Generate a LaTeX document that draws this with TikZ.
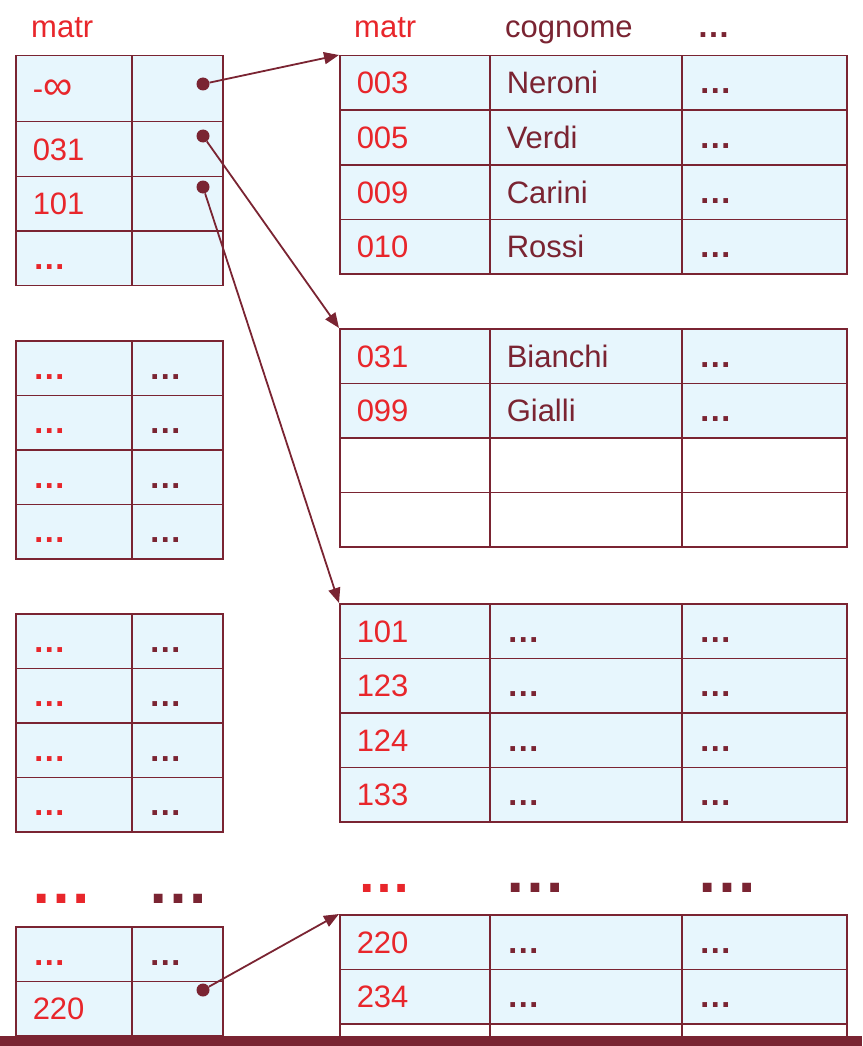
\documentclass[tikz,border=0pt]{standalone}
\usepackage{fontspec}
\setmainfont{Liberation Sans}
\usetikzlibrary{arrows.meta}
\definecolor{idxred}{HTML}{E8262B}
\definecolor{idxdark}{HTML}{7A2432}
\definecolor{idxfill}{HTML}{E7F6FD}
\newcommand\elid{{\bfseries\fontsize{33}{36}\selectfont …}}

\begin{document}
\begin{tikzpicture}[x=1pt,y=-1pt]
\tikzset{cell/.style={draw=idxdark,fill=idxfill,line width=1.5pt,anchor=north west,
  minimum height=54.5pt,text height=22pt,text depth=0pt,inner xsep=17pt,inner ysep=0pt,
  align=left,font=\fontsize{31}{36}\selectfont}}
\tikzset{keyc/.style={cell,text=idxred,minimum width=116pt,text width=82pt}}
\tikzset{ptrc/.style={cell,text=idxdark,minimum width=91pt,text width=57pt}}
\tikzset{rkey/.style={cell,text=idxred,minimum width=150pt,text width=116pt}}
\tikzset{rname/.style={cell,text=idxdark,minimum width=192pt,text width=158pt}}
\tikzset{rrest/.style={cell,text=idxdark,minimum width=165pt,text width=131pt}}
\tikzset{head/.style={anchor=base west,inner sep=0pt,font=\fontsize{31}{36}\selectfont}}
\tikzset{bigdots/.style={head,font=\bfseries\fontsize{62}{70}\selectfont}}
\tikzset{dotp/.style={circle,fill=idxdark,inner sep=0pt,minimum size=13pt}}
\tikzset{link/.style={draw=idxdark,line width=1.8pt,-{Triangle[length=15pt,width=12pt]}}}
\useasboundingbox (0,0) rectangle (862,1046);

% headers
\node[head,text=idxred] (hidx) at (31,38) {matr};
\node[head,text=idxred] (hkey) at (354,38) {matr};
\node[head,text=idxdark] (hname) at (505,38) {cognome};
\node[head,text=idxdark] (hrest) at (697,38) {\elid};

% index, first block
\node[keyc,minimum height=66pt] (A0-k) at (15,55) {-{\fontsize{41}{41}\selectfont∞}};
\node[ptrc,minimum height=66pt] (A0-p) at (131,55) {};
\foreach \r/\y/\k in {1/121/031,2/175.5/101,3/230/\elid} {
  \node[keyc] (A\r-k) at (15,\y) {\k};
  \node[ptrc] (A\r-p) at (131,\y) {};
}

% index, middle blocks
\foreach \t/\y in {B/340,C/613} {
  \foreach \r in {0,...,3} {
    \node[keyc] (\t\r-k) at (15,{\y+\r*54.5}) {\elid};
    \node[ptrc] (\t\r-p) at (131,{\y+\r*54.5}) {\elid};
  }
}

% index, last block
\node[keyc] (D0-k) at (15,926) {\elid};
\node[ptrc] (D0-p) at (131,926) {\elid};
\node[keyc] (D1-k) at (15,980.5) {220};
\node[ptrc] (D1-p) at (131,980.5) {};

% data pages
\foreach \r/\k/\n in {0/003/Neroni,1/005/Verdi,2/009/Carini,3/010/Rossi} {
  \node[rkey] (P\r-k) at (339,{55+\r*54.5}) {\k};
  \node[rname] (P\r-n) at (489,{55+\r*54.5}) {\n};
  \node[rrest] (P\r-r) at (681,{55+\r*54.5}) {\elid};
}
\foreach \r/\k/\n in {0/031/Bianchi,1/099/Gialli} {
  \node[rkey] (Q\r-k) at (339,{328+\r*54.5}) {\k};
  \node[rname] (Q\r-n) at (489,{328+\r*54.5}) {\n};
  \node[rrest] (Q\r-r) at (681,{328+\r*54.5}) {\elid};
}
\foreach \r in {2,3} {
  \node[rkey,fill=white] (Q\r-k) at (339,{328+\r*54.5}) {};
  \node[rname,fill=white] (Q\r-n) at (489,{328+\r*54.5}) {};
  \node[rrest,fill=white] (Q\r-r) at (681,{328+\r*54.5}) {};
}
\foreach \r/\k in {0/101,1/123,2/124,3/133} {
  \node[rkey] (S\r-k) at (339,{603+\r*54.5}) {\k};
  \node[rname] (S\r-n) at (489,{603+\r*54.5}) {\elid};
  \node[rrest] (S\r-r) at (681,{603+\r*54.5}) {\elid};
}
\foreach \r/\k in {0/220,1/234} {
  \node[rkey] (T\r-k) at (339,{914+\r*54.5}) {\k};
  \node[rname] (T\r-n) at (489,{914+\r*54.5}) {\elid};
  \node[rrest] (T\r-r) at (681,{914+\r*54.5}) {\elid};
}
\node[rkey,fill=white,minimum height=13pt,text height=0pt] (T2-k) at (339,1023) {};
\node[rname,fill=white,minimum height=13pt,text height=0pt] (T2-n) at (489,1023) {};
\node[rrest,fill=white,minimum height=13pt,text height=0pt] (T2-r) at (681,1023) {};

% elided blocks
\node[bigdots,text=idxred] (eidx) at (30,903) {…};
\node[bigdots,text=idxdark] (eptr) at (147,903) {…};
\node[bigdots,text=idxred,font=\bfseries\fontsize{54}{60}\selectfont] (ekey) at (357,892) {…};
\node[bigdots,text=idxdark] (ename) at (504,892) {…};
\node[bigdots,text=idxdark] (erest) at (696,892) {…};

% pointers
\node[dotp] (d0) at (203,84) {};
\node[dotp] (d1) at (203,136) {};
\node[dotp] (d2) at (203,187) {};
\node[dotp] (d3) at (203,990) {};
\draw[link] (d0) -- (P0-k.north west);
\draw[link] (d1) -- (Q0-k.north west);
\draw[link] (d2) -- (S0-k.north west);
\draw[link] (d3) -- (T0-k.north west);

\fill[idxdark] (0,1036) rectangle (862,1046);
\end{tikzpicture}
\end{document}
